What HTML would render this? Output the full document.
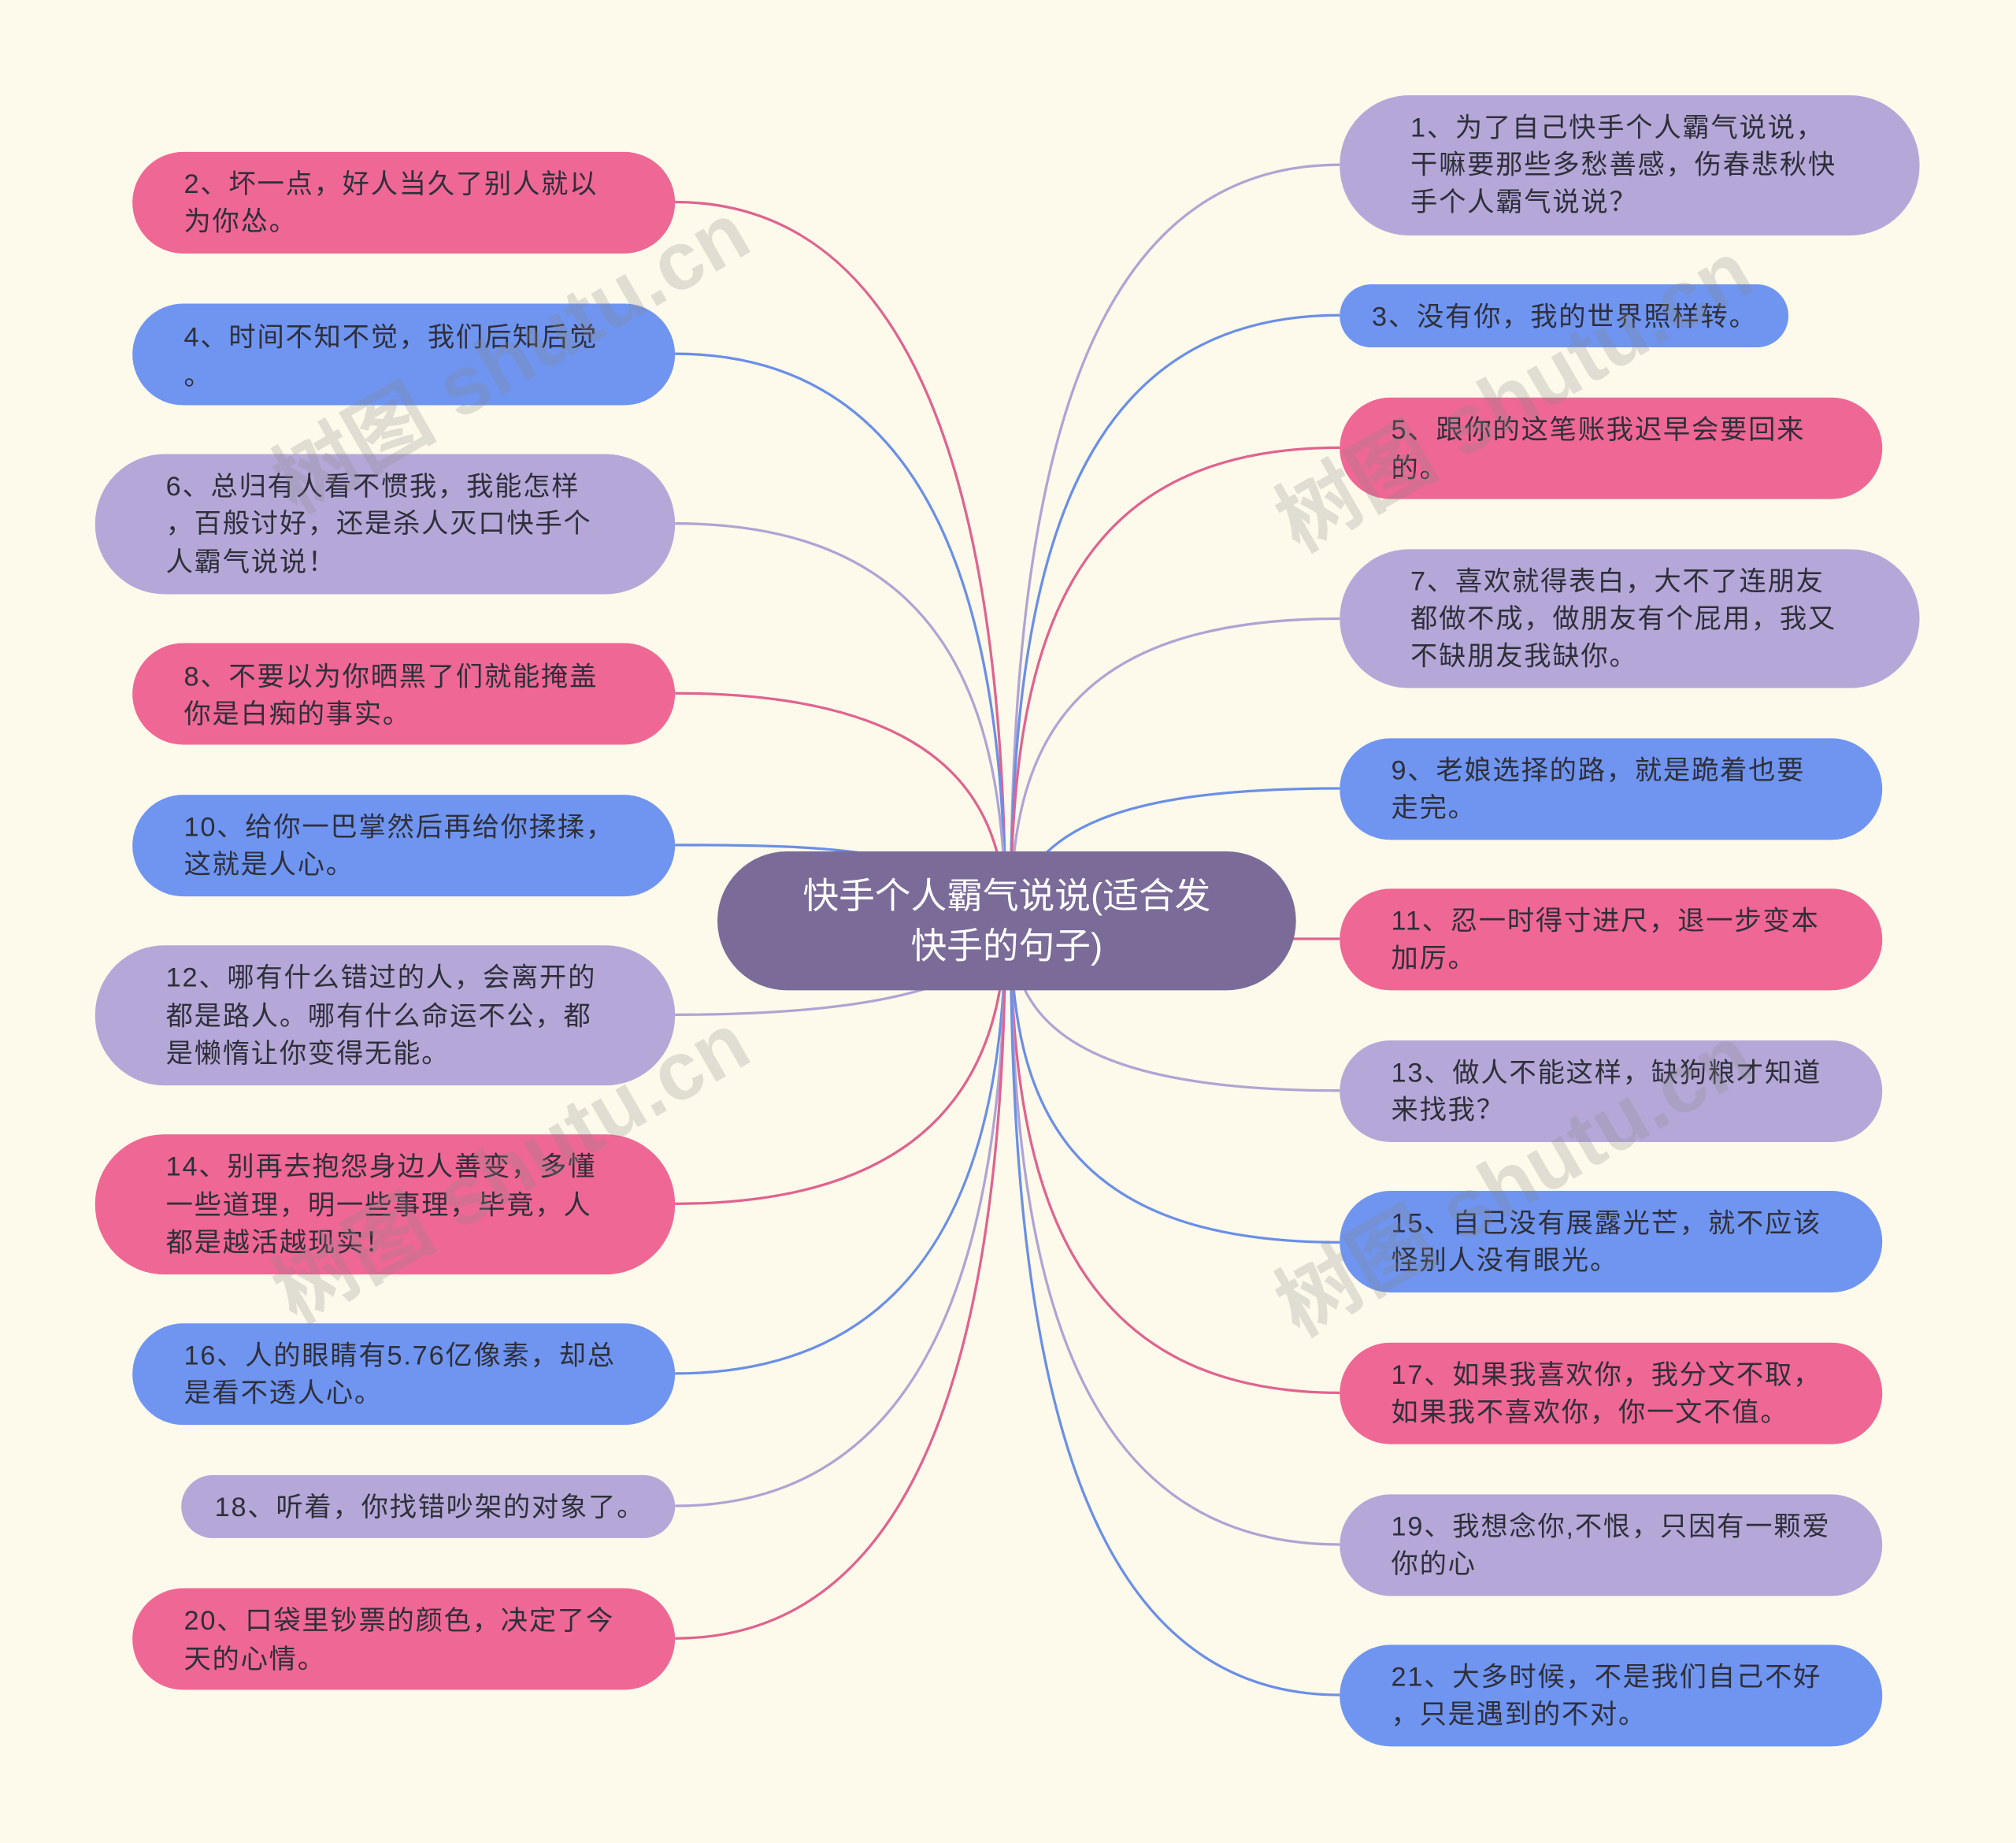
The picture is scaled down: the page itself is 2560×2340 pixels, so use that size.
<!DOCTYPE html>
<html><head><meta charset="utf-8"><style>
html,body{margin:0;padding:0;background:#fefaeb;}
svg{display:block;}
text{font-family:"Liberation Sans","Noto Sans CJK SC",sans-serif;}
.n text{letter-spacing:1.1px;}
</style></head><body>
<svg width="2560" height="2340" viewBox="0 0 1568 1433" xmlns="http://www.w3.org/2000/svg">
<rect width="1568" height="1433" fill="#fefaeb"/>
<g fill="none" stroke-width="2">
<path d="M525,157 C730,157 782,430 782,716" stroke="#e0638f"/>
<path d="M525,275 C730,275 782,480 782,716" stroke="#6b8fe6"/>
<path d="M525,407 C730,407 782,540 782,716" stroke="#b0a4d4"/>
<path d="M525,539 C730,539 782,620 782,716" stroke="#e0638f"/>
<path d="M525,657 C650,657 740,660 782,716" stroke="#6b8fe6"/>
<path d="M525,789 C700,789 782,760 782,716" stroke="#b0a4d4"/>
<path d="M525,936 C730,936 782,830 782,716" stroke="#e0638f"/>
<path d="M525,1068 C730,1068 782,900 782,716" stroke="#6b8fe6"/>
<path d="M525,1171 C730,1171 782,960 782,716" stroke="#b0a4d4"/>
<path d="M525,1274 C730,1274 782,1010 782,716" stroke="#e0638f"/>
<path d="M1042,128 C830,128 786,400 786,716" stroke="#b0a4d4"/>
<path d="M1042,245 C830,245 786,450 786,716" stroke="#6b8fe6"/>
<path d="M1042,348 C830,348 786,500 786,716" stroke="#e0638f"/>
<path d="M1042,481 C830,481 786,580 786,716" stroke="#b0a4d4"/>
<path d="M1042,613 C880,613 800,640 786,716" stroke="#6b8fe6"/>
<path d="M1042,730 C900,730 830,730 786,716" stroke="#e0638f"/>
<path d="M1042,848 C830,848 786,790 786,716" stroke="#b0a4d4"/>
<path d="M1042,966 C830,966 786,860 786,716" stroke="#6b8fe6"/>
<path d="M1042,1083 C830,1083 786,920 786,716" stroke="#e0638f"/>
<path d="M1042,1201 C830,1201 786,980 786,716" stroke="#b0a4d4"/>
<path d="M1042,1318 C830,1318 786,1040 786,716" stroke="#6b8fe6"/>
</g>
<g class="n" font-size="21" fill="#2f2f3a">
<rect x="103" y="118" width="422" height="79" rx="39.5" fill="#ef6794"/>
<text x="143" y="150">2、坏一点，好人当久了别人就以</text><text x="143" y="179">为你怂。</text>
<rect x="103" y="236" width="422" height="79" rx="39.5" fill="#6f95f1"/>
<text x="143" y="269">4、时间不知不觉，我们后知后觉</text><text x="143" y="299">。</text>
<rect x="74" y="353" width="451" height="109" rx="54" fill="#b5a8d8"/>
<text x="129" y="385">6、总归有人看不惯我，我能怎样</text><text x="129" y="414">，百般讨好，还是杀人灭口快手个</text><text x="129" y="444">人霸气说说！</text>
<rect x="103" y="500" width="422" height="79" rx="39.5" fill="#ef6794"/>
<text x="143" y="533">8、不要以为你晒黑了们就能掩盖</text><text x="143" y="562">你是白痴的事实。</text>
<rect x="103" y="618" width="422" height="79" rx="39.5" fill="#6f95f1"/>
<text x="143" y="650">10、给你一巴掌然后再给你揉揉，</text><text x="143" y="679">这就是人心。</text>
<rect x="74" y="735" width="451" height="109" rx="54" fill="#b5a8d8"/>
<text x="129" y="767">12、哪有什么错过的人，会离开的</text><text x="129" y="797">都是路人。哪有什么命运不公，都</text><text x="129" y="826">是懒惰让你变得无能。</text>
<rect x="74" y="882" width="451" height="109" rx="54" fill="#ef6794"/>
<text x="129" y="914">14、别再去抱怨身边人善变，多懂</text><text x="129" y="944">一些道理，明一些事理，毕竟，人</text><text x="129" y="973">都是越活越现实！</text>
<rect x="103" y="1029" width="422" height="79" rx="39.5" fill="#6f95f1"/>
<text x="143" y="1061">16、人的眼睛有5.76亿像素，却总</text><text x="143" y="1090">是看不透人心。</text>
<rect x="141" y="1147" width="384" height="49" rx="24.5" fill="#b5a8d8"/>
<text x="167" y="1179">18、听着，你找错吵架的对象了。</text>
<rect x="103" y="1235" width="422" height="79" rx="39.5" fill="#ef6794"/>
<text x="143" y="1267">20、口袋里钞票的颜色，决定了今</text><text x="143" y="1297">天的心情。</text>

<rect x="1042" y="74" width="451" height="109" rx="54" fill="#b5a8d8"/>
<text x="1097" y="106">1、为了自己快手个人霸气说说，</text><text x="1097" y="135">干嘛要那些多愁善感，伤春悲秋快</text><text x="1097" y="164">手个人霸气说说？</text>
<rect x="1042" y="221" width="349" height="49" rx="24.5" fill="#6f95f1"/>
<text x="1067" y="253">3、没有你，我的世界照样转。</text>
<rect x="1042" y="309" width="422" height="79" rx="39.5" fill="#ef6794"/>
<text x="1082" y="341">5、跟你的这笔账我迟早会要回来</text><text x="1082" y="371">的。</text>
<rect x="1042" y="427" width="451" height="108" rx="54" fill="#b5a8d8"/>
<text x="1097" y="459">7、喜欢就得表白，大不了连朋友</text><text x="1097" y="488">都做不成，做朋友有个屁用，我又</text><text x="1097" y="517">不缺朋友我缺你。</text>
<rect x="1042" y="574" width="422" height="79" rx="39.5" fill="#6f95f1"/>
<text x="1082" y="606">9、老娘选择的路，就是跪着也要</text><text x="1082" y="635">走完。</text>
<rect x="1042" y="691" width="422" height="79" rx="39.5" fill="#ef6794"/>
<text x="1082" y="723">11、忍一时得寸进尺，退一步变本</text><text x="1082" y="752">加厉。</text>
<rect x="1042" y="809" width="422" height="79" rx="39.5" fill="#b5a8d8"/>
<text x="1082" y="841">13、做人不能这样，缺狗粮才知道</text><text x="1082" y="870">来找我？</text>
<rect x="1042" y="926" width="422" height="79" rx="39.5" fill="#6f95f1"/>
<text x="1082" y="958">15、自己没有展露光芒，就不应该</text><text x="1082" y="987">怪别人没有眼光。</text>
<rect x="1042" y="1044" width="422" height="79" rx="39.5" fill="#ef6794"/>
<text x="1082" y="1076">17、如果我喜欢你，我分文不取，</text><text x="1082" y="1105">如果我不喜欢你，你一文不值。</text>
<rect x="1042" y="1162" width="422" height="79" rx="39.5" fill="#b5a8d8"/>
<text x="1082" y="1194">19、我想念你,不恨，只因有一颗爱</text><text x="1082" y="1223">你的心</text>
<rect x="1042" y="1279" width="422" height="79" rx="39.5" fill="#6f95f1"/>
<text x="1082" y="1311">21、大多时候，不是我们自己不好</text><text x="1082" y="1340">，只是遇到的不对。</text>
</g>
<rect x="558" y="662" width="450" height="108" rx="54" fill="#7b6b98"/>
<text x="783" y="706" font-size="28" fill="#fff" text-anchor="middle">快手个人霸气说说(适合发</text>
<text x="783" y="745" font-size="28" fill="#fff" text-anchor="middle">快手的句子)</text>
<g font-size="64" fill="#888" fill-opacity="0.25" font-weight="bold">
<text x="230" y="400" transform="rotate(-30 230 400)">树图 shutu.cn</text>
<text x="1010" y="430" transform="rotate(-30 1010 430)">树图 shutu.cn</text>
<text x="230" y="1030" transform="rotate(-30 230 1030)">树图 shutu.cn</text>
<text x="1010" y="1040" transform="rotate(-30 1010 1040)">树图 shutu.cn</text>
</g>
</svg>
</body></html>
